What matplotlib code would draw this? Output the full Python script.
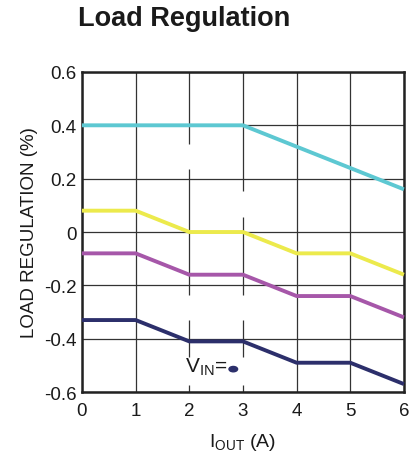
import matplotlib
matplotlib.use("Agg")
import matplotlib.pyplot as plt
from matplotlib.patches import Ellipse

plt.rcParams['font.family'] = ['Liberation Sans', 'DejaVu Sans']
plt.rcParams['mathtext.default'] = 'regular'

# Data
iout = [0, 1, 2, 3, 4, 5, 6]
series_cyan = [0.40, 0.40, 0.40, 0.40, 0.32, 0.24, 0.16]
series_yellow = [0.08, 0.08, 0.00, 0.00, -0.08, -0.08, -0.16]
series_purple = [-0.08, -0.08, -0.16, -0.16, -0.24, -0.24, -0.32]
series_navy = [-0.33, -0.33, -0.41, -0.41, -0.49, -0.49, -0.57]
colors = ['#5DC8D2', '#ECEA4C', '#A657A9', '#2C2F6B']
xticks = [0, 1, 2, 3, 4, 5, 6]
yticks = [-0.6, -0.4, -0.2, 0, 0.2, 0.4, 0.6]
ytick_labels = ['-0.6', '-0.4', '-0.2', '0', '0.2', '0.4', '0.6']

# erased label areas in the grid (x, ylow, yhigh)
grid_gaps = [(2, 0.236, 0.33), (3, 0.057, 0.152),
             (2, -0.331, -0.237), (3, -0.331, -0.237),
             (2, -0.575, -0.468), (3, -0.575, -0.468)]
vin_text_pos = (1.92, -0.525)
vin_blob_pos = (2.82, -0.514)

fig = plt.figure(figsize=(4.13, 4.56), dpi=100)
ax = fig.add_axes([0.1985, 0.138, 0.7795, 0.702])

ax.set_xlim(0, 6)
ax.set_ylim(-0.6, 0.6)
ax.set_xticks(xticks)
ax.set_yticks(yticks)
ax.set_yticklabels(ytick_labels)
ax.grid(True, color='#333333', linewidth=0.9)
ax.set_axisbelow(True)
ax.tick_params(length=0, labelsize=13.5, colors='#1a1a1a')
ax.tick_params(axis='x', pad=7)
ax.tick_params(axis='y', pad=4)
for s in ax.spines.values():
    s.set_linewidth(1.8)
    s.set_color('#222222')

for gx, g0, g1 in grid_gaps:
    ax.plot([gx, gx], [g0, g1], color='white', linewidth=2.5, zorder=1,
            solid_capstyle='butt')

for ys, c in zip([series_cyan, series_yellow, series_purple, series_navy], colors):
    ax.plot(iout, ys, color=c, linewidth=2.8, zorder=3, clip_on=False,
            solid_capstyle='butt')

ax.text(vin_text_pos[0], vin_text_pos[1], 'V$_{IN}$=', fontsize=15,
        color='#1a1a1a', ha='left', va='baseline', zorder=4)
ax.add_patch(Ellipse(vin_blob_pos, 0.16, 0.02, color=colors[3], zorder=4))

ax.set_xlabel('I$_{OUT}$ (A)', fontsize=14, color='#1a1a1a', labelpad=9)
ax.set_ylabel('LOAD REGULATION (%)', fontsize=13.5, color='#1a1a1a', labelpad=4)

fig.text(0.445, 0.943, 'Load Regulation', fontsize=19.5, fontweight='bold',
         ha='center', va='baseline', color='#1a1a1a')

fig.savefig('out.png', dpi=100)
